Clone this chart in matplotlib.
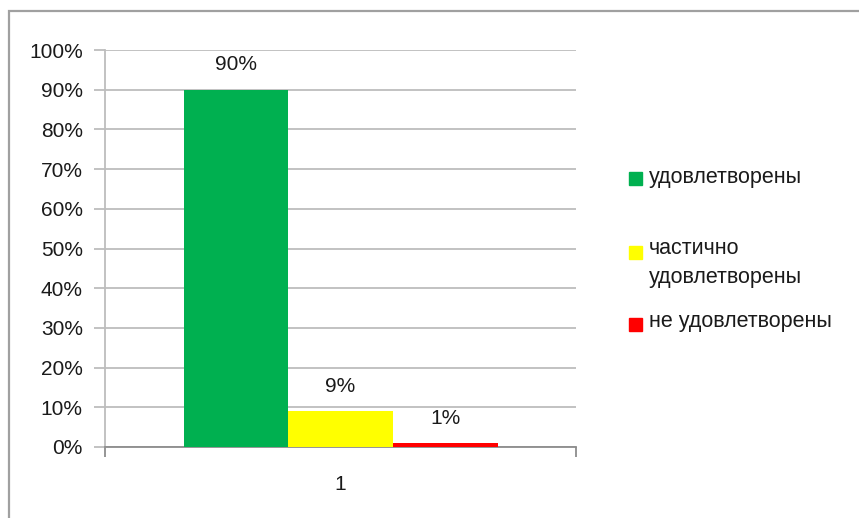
import numpy as np
import matplotlib
matplotlib.use("Agg")
import matplotlib.pyplot as plt
from matplotlib.patches import Rectangle
from matplotlib.ticker import PercentFormatter, FixedLocator

plt.rcParams['font.family'] = ['Liberation Sans', 'DejaVu Sans']

categories = ['1']
series_names = ['удовлетворены', 'частично\nудовлетворены', 'не удовлетворены']
series_values = [0.90, 0.09, 0.01]
value_labels = ['90%', '9%', '1%']
colors = ['#00B050', '#FFFF00', '#FF0000']

W, H, DPI = 859, 518, 100
fig = plt.figure(figsize=(W / DPI, H / DPI), dpi=DPI)
ax = fig.add_axes([105 / W, (H - 447) / H, (576 - 105) / W, (447 - 50) / H])

fs = 15
x = np.arange(len(categories))
bw = 2 / 9
offsets = [-bw, 0, bw]
for val, lab, col, off in zip(series_values, value_labels, colors, offsets):
    ax.bar(x + off, [val], width=bw, color=col, zorder=3)
    ax.annotate(lab, (x[0] + off, val), xytext=(0, 14), textcoords='offset points',
                ha='center', va='baseline', fontsize=fs, color='#1a1a1a')

ax.set_xlim(-0.5, 0.5)
ax.set_ylim(0, 1)
ax.set_yticks(np.arange(0, 1.01, 0.1))
ax.yaxis.set_major_formatter(PercentFormatter(1.0, decimals=0))
ax.grid(axis='y', color='#BDBDBD', linewidth=1.3, zorder=0)
ax.set_xticks(x)
ax.set_xticklabels(categories)
ax.xaxis.set_minor_locator(FixedLocator([-0.5, 0.5]))
ax.tick_params(axis='x', which='major', length=0, pad=20, labelsize=fs, labelcolor='#1a1a1a')
ax.tick_params(axis='x', which='minor', length=7, width=1.3, color='#8c8c8c')
ax.tick_params(axis='y', length=8, width=1.3, color='#BDBDBD', pad=8, labelsize=fs, labelcolor='#1a1a1a')

for s in ['top', 'right']:
    ax.spines[s].set_visible(False)
ax.spines['left'].set_color('#BDBDBD')
ax.spines['left'].set_linewidth(1.3)
ax.spines['bottom'].set_color('#8c8c8c')
ax.spines['bottom'].set_linewidth(1.3)

# legend drawn by hand to match spacing
leg_y = [178, 252, 324]
text_y = [167, 238, 311]
for name, col, yc, yt in zip(series_names, colors, leg_y, text_y):
    fig.add_artist(Rectangle((629 / W, 1 - (yc + 6.5) / H), 13 / W, 13 / H,
                             transform=fig.transFigure, color=col))
    fig.text(649 / W, 1 - yt / H, name, ha='left', va='top', fontsize=15.5,
             color='#1a1a1a', linespacing=1.5)

# outer chart border (only top and left visible)
fig.add_artist(Rectangle((9 / W, -0.2), 1.2, 1 - 11 / H + 0.2, transform=fig.transFigure,
                         fill=False, edgecolor='#A0A0A0', linewidth=1.6))

fig.savefig('out.png', dpi=DPI)
